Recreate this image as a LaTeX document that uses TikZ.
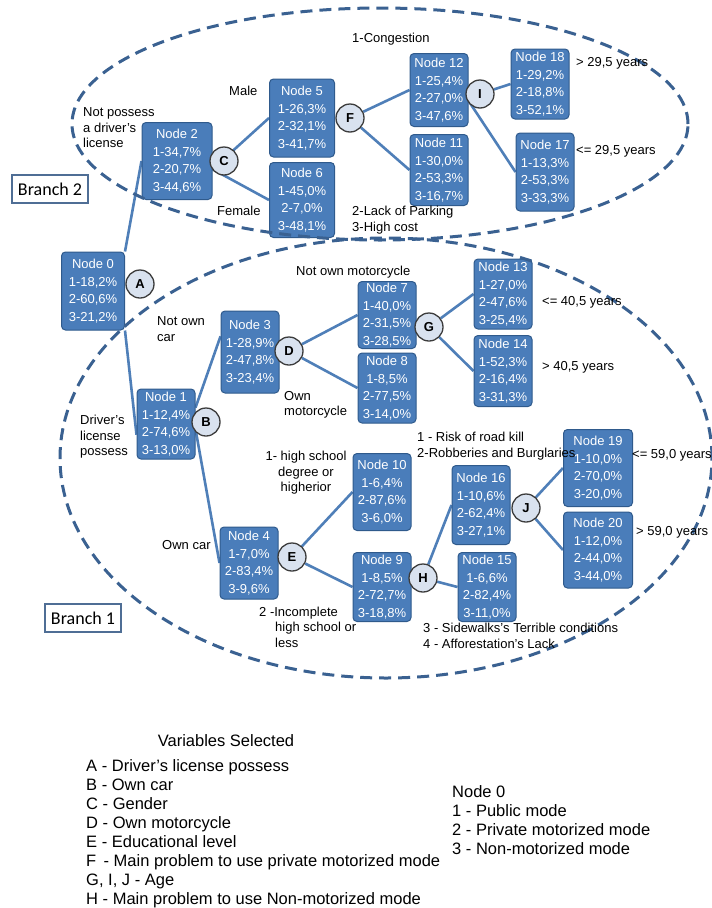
\documentclass[tikz,border=0pt]{standalone}
\usepackage{fontspec}
\setmainfont{Liberation Sans}
\newfontfamily\branchfont{Carlito}
\usetikzlibrary{backgrounds}
\begin{document}
\begin{tikzpicture}[x=1pt,y=-1pt,
  nodebox/.style={draw=boxedge,fill=boxfill,rounded corners=4pt,line width=1pt,text=white,align=center,inner sep=1pt,minimum width=58pt,minimum height=74pt,font=\fontsize{13}{17.5}\selectfont},
  varcircle/.style={circle,draw=circedge,fill=circfill,line width=1.3pt,minimum size=28pt,inner sep=0pt,font=\bfseries\fontsize{13}{13}\selectfont},
  treeline/.style={draw=treeblue,line width=2.6pt},
  cond/.style={font=\fontsize{13}{15.5}\selectfont,align=left,inner sep=0pt,anchor=west},
  branchbox/.style={draw=branchedge,line width=1.3pt,minimum width=76pt,minimum height=28pt,inner sep=0pt,font=\branchfont\fontsize{18}{18}\selectfont},
  groupline/.style={draw=groupblue,line width=3pt,dash pattern=on 12pt off 7pt},
  legendtext/.style={font=\fontsize{16.5}{19}\selectfont,align=left,inner sep=0pt,anchor=west}]
\definecolor{boxfill}{HTML}{4A7DBA}
\definecolor{boxedge}{HTML}{2F5A8C}
\definecolor{treeblue}{HTML}{4F7FB8}
\definecolor{circfill}{HTML}{D9E2EF}
\definecolor{circedge}{HTML}{3C3C3C}
\definecolor{groupblue}{HTML}{3A6191}
\definecolor{branchedge}{HTML}{4F6E95}
\useasboundingbox (0,0) rectangle (712,908);
\node[nodebox,minimum width=63pt,minimum height=78pt] (n0) at (93,291) {Node 0\\1-18,2\%\\2-60,6\%\\3-21,2\%};
\node[nodebox,minimum height=70pt] (n1) at (166,424) {Node 1\\1-12,4\%\\2-74,6\%\\3-13,0\%};
\node[nodebox,minimum width=70pt,minimum height=77pt] (n2) at (177,161) {Node 2\\1-34,7\%\\2-20,7\%\\3-44,6\%};
\node[nodebox,minimum height=82pt] (n3) at (250,352) {Node 3\\1-28,9\%\\2-47,8\%\\3-23,4\%};
\node[nodebox,minimum height=72pt] (n4) at (249,563) {Node 4\\1-7,0\%\\2-83,4\%\\3-9,6\%};
\node[nodebox,minimum width=65pt,minimum height=78pt] (n5) at (302,118) {Node 5\\1-26,3\%\\2-32,1\%\\3-41,7\%};
\node[nodebox,minimum width=65pt,minimum height=75pt] (n6) at (302,200) {Node 6\\1-45,0\%\\2-7,0\%\\3-48,1\%};
\node[nodebox,minimum height=67pt] (n7) at (387,315) {Node 7\\1-40,0\%\\2-31,5\%\\3-28,5\%};
\node[nodebox,minimum height=70pt] (n8) at (387,388) {Node 8\\1-8,5\%\\2-77,5\%\\3-14,0\%};
\node[nodebox,minimum height=69pt] (n9) at (382,587) {Node 9\\1-8,5\%\\2-72,7\%\\3-18,8\%};
\node[nodebox,minimum height=77pt] (n10) at (382,492) {Node 10\\1-6,4\%\\2-87,6\%\\3-6,0\%};
\node[nodebox,minimum height=71pt] (n11) at (439,170) {Node 11\\1-30,0\%\\2-53,3\%\\3-16,7\%};
\node[nodebox,minimum height=73pt] (n12) at (439,90) {Node 12\\1-25,4\%\\2-27,0\%\\3-47,6\%};
\node[nodebox,minimum height=70pt] (n13) at (503,294) {Node 13\\1-27,0\%\\2-47,6\%\\3-25,4\%};
\node[nodebox,minimum height=71pt] (n14) at (503,371) {Node 14\\1-52,3\%\\2-16,4\%\\3-31,3\%};
\node[nodebox,minimum height=69pt] (n15) at (487,587) {Node 15\\1-6,6\%\\2-82,4\%\\3-11,0\%};
\node[nodebox,minimum height=79pt] (n16) at (481,505) {Node 16\\1-10,6\%\\2-62,4\%\\3-27,1\%};
\node[nodebox,minimum height=78pt] (n17) at (545,172) {Node 17\\1-13,3\%\\2-53,3\%\\3-33,3\%};
\node[nodebox,minimum height=70pt] (n18) at (540,84) {Node 18\\1-29,2\%\\2-18,8\%\\3-52,1\%};
\node[nodebox,minimum width=69pt,minimum height=77pt] (n19) at (598,468) {Node 19\\1-10,0\%\\2-70,0\%\\3-20,0\%};
\node[nodebox,minimum width=69pt,minimum height=76pt] (n20) at (598,550) {Node 20\\1-12,0\%\\2-44,0\%\\3-44,0\%};
\node[varcircle] (A) at (140,284) {A};
\node[varcircle] (B) at (206,422) {B};
\node[varcircle] (C) at (224,161) {C};
\node[varcircle] (D) at (289,351) {D};
\node[varcircle] (E) at (292,557) {E};
\node[varcircle] (F) at (350,118) {F};
\node[varcircle] (G) at (429,327) {G};
\node[varcircle] (H) at (423,578) {H};
\node[varcircle] (I) at (480,94) {I};
\node[varcircle] (J) at (526,508) {J};
\begin{pgfonlayer}{background}
\draw[treeline] (n0.north east) -- (n2.west);
\draw[treeline] (n0.south east) -- (n1.200);
\draw[treeline] (n2.-13) -- (n5.west);
\draw[treeline] (n2.-13) -- (n6.west);
\draw[treeline] (n1.29) -- (n3.152);
\draw[treeline] (n1.-10) -- (n4.west);
\draw[treeline] (F) -- (n12.west);
\draw[treeline] (F) -- (n11.west);
\draw[treeline] (I) -- (n18.west);
\draw[treeline] (n12.-20) -- (n17.west);
\draw[treeline] (D) -- (n7.west);
\draw[treeline] (D) -- (n8.west);
\draw[treeline] (G) -- (n13.west);
\draw[treeline] (G) -- (n14.west);
\draw[treeline] (E) -- (n10.west);
\draw[treeline] (E) -- (n9.west);
\draw[treeline] (H) -- (n16.west);
\draw[treeline] (H) -- (n15.west);
\draw[treeline] (J) -- (n19.west);
\draw[treeline] (J) -- (n20.west);
\end{pgfonlayer}
\draw[groupline] (380,124) ellipse [x radius=308pt, y radius=116pt];
\draw[groupline] (386,458) ellipse [x radius=326pt, y radius=220pt];
\node[cond] (male) at (229,91) {Male};
\node[cond] (female) at (217,211) {Female};
\node[cond] (nolicense) at (83,128) {Not possess\\a driver's\\license};
\node[cond] (congestion) at (352,39) {1-Congestion};
\node[cond] (parking) at (352,220) {2-Lack of Parking\\3-High cost};
\node[cond] (old29) at (576,63) {> 29,5 years};
\node[cond] (young29) at (576,151) {<= 29,5 years};
\node[cond] (nomoto) at (296,272) {Not own motorcycle};
\node[cond] (nocar) at (157,329) {Not own\\car};
\node[cond] (license) at (80,437) {Driver's\\license\\possess};
\node[cond] (moto) at (284,405) {Own\\motorcycle};
\node[cond] (young40) at (542,302) {<= 40,5 years};
\node[cond] (old40) at (542,367) {> 40,5 years};
\node[cond,anchor=center,align=center] (highschool) at (306,473) {1- high school\\degree or\\higherior};
\node[cond] (roadkill) at (417,446) {1 - Risk of road kill\\2-Robberies and Burglaries};
\node[cond] (young59) at (632,455) {<= 59,0 years};
\node[cond] (old59) at (636,532) {> 59,0 years};
\node[cond] (owncar) at (162,545) {Own car};
\node[cond] (incomplete) at (259,627) {2 -Incomplete\\\hspace*{16pt}high school or\\\hspace*{16pt}less};
\node[cond] (sidewalks) at (423,636) {3 - Sidewalks's Terrible conditions\\4 - Afforestation's Lack};
\node[branchbox,fill=white] (branch2) at (50,189) {Branch 2};
\node[branchbox,fill=white] (branch1) at (83,618) {Branch 1};
\node[legendtext,anchor=center] (vartitle) at (226,741) {Variables Selected};
\node[legendtext] (varlist) at (86,833.5) {A - Driver's license possess\\B - Own car\\C - Gender\\D - Own motorcycle\\E - Educational level\\F\, - Main problem to use private motorized mode\\G, I, J - Age\\H - Main problem to use Non-motorized mode};
\node[legendtext] (modelist) at (452,820.5) {Node 0\\1 - Public mode\\2 - Private motorized mode\\3 - Non-motorized mode};
\end{tikzpicture}
\end{document}
